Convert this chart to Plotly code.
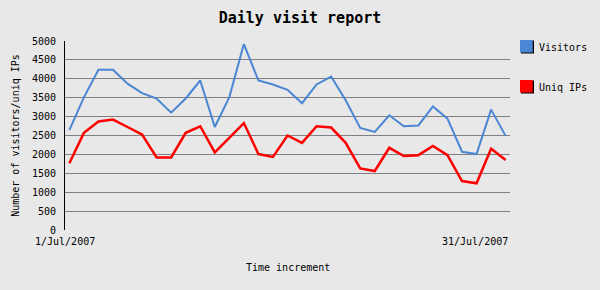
import plotly.graph_objects as go

days = list(range(1, 32))
visitors = [2640, 3510, 4240, 4240, 3870, 3620, 3475, 3105, 3480, 3955,
            2725, 3515, 4920, 3955, 3850, 3710, 3355, 3850, 4060, 3430,
            2700, 2595, 3035, 2745, 2765, 3270, 2945, 2070, 2010, 3185, 2490]
uniq_ips = [1765, 2570, 2870, 2920, 2725, 2525, 1920, 1920, 2570, 2745,
            2055, 2450, 2830, 2010, 1935, 2500, 2305, 2745, 2710, 2305,
            1630, 1560, 2175, 1955, 1980, 2225, 1980, 1295, 1235, 2150, 1850]
series_names = ["Visitors", "Uniq IPs"]
series_colors = ["#4a86d4", "#ff0000"]
x_tick_labels = ["1/Jul/2007", "31/Jul/2007"]
y_ticks = list(range(0, 5001, 500))

FONT = "DejaVu Sans Mono"

fig = go.Figure()
fig.add_trace(go.Scatter(x=days, y=visitors, mode="lines", name=series_names[0],
                         line=dict(color=series_colors[0], width=2), showlegend=False))
fig.add_trace(go.Scatter(x=days, y=uniq_ips, mode="lines", name=series_names[1],
                         line=dict(color=series_colors[1], width=2.5), showlegend=False))

bg = "#e8e8e8"
fig.update_layout(
    width=600, height=290,
    margin=dict(l=65, r=90, t=41, b=60),
    paper_bgcolor=bg, plot_bgcolor=bg,
    font=dict(family=FONT, size=10, color="black"),
    title=dict(text="<b>Daily visit report</b>", x=0.5, xanchor="center",
               y=1 - 18 / 290, yanchor="middle",
               font=dict(family=FONT, size=15, color="black")),
    xaxis=dict(range=[0.7, 31.3], showgrid=False, showticklabels=False,
               zeroline=False, showline=False, fixedrange=True),
    yaxis=dict(range=[0, 5000], tickvals=y_ticks, showgrid=True,
               gridcolor="#808080", gridwidth=1, zeroline=False,
               showline=True, linecolor="black", linewidth=1,
               ticks="", ticklabelstandoff=6,
               tickfont=dict(family=FONT, size=10),
               title=dict(text="Number of visitors/uniq IPs", standoff=10,
                          font=dict(family=FONT, size=10))),
    showlegend=False,
)

# x tick labels at the ends of the axis
fig.add_annotation(text=x_tick_labels[0], xref="paper", yref="paper", x=0, y=0,
                   xanchor="center", yanchor="top", yshift=-4, showarrow=False,
                   font=dict(family=FONT, size=10))
fig.add_annotation(text=x_tick_labels[1], xref="paper", yref="paper", x=1, y=0,
                   xanchor="right", yanchor="top", yshift=-4, showarrow=False,
                   font=dict(family=FONT, size=10))
# x axis title
fig.add_annotation(text="Time increment", xref="paper", yref="paper", x=0.5, y=0,
                   xanchor="center", yanchor="middle", yshift=-37, showarrow=False,
                   font=dict(family=FONT, size=10))

# custom legend
legend_y_px = [47, 87]
for name, color, ypx in zip(series_names, series_colors, legend_y_px):
    yp = 1 - ypx / 290
    fig.add_shape(type="rect", xref="paper", yref="paper",
                  x0=(521 - 65) / 445, x1=(534 - 65) / 445,
                  y0=(290 - 60 - (ypx + 6.5)) / 189, y1=(290 - 60 - (ypx - 6.5)) / 189,
                  fillcolor="black", line=dict(width=0))
    fig.add_shape(type="rect", xref="paper", yref="paper",
                  x0=(520 - 65) / 445, x1=(532.7 - 65) / 445,
                  y0=(290 - 60 - (ypx + 5.5)) / 189, y1=(290 - 60 - (ypx - 7)) / 189,
                  fillcolor=color, line=dict(width=0))
    fig.add_annotation(text=name, xref="paper", yref="paper",
                       x=(537 - 65) / 445, y=(290 - 60 - ypx) / 189,
                       xanchor="left", yanchor="middle", showarrow=False,
                       font=dict(family=FONT, size=10))

fig.write_html("out.html")
